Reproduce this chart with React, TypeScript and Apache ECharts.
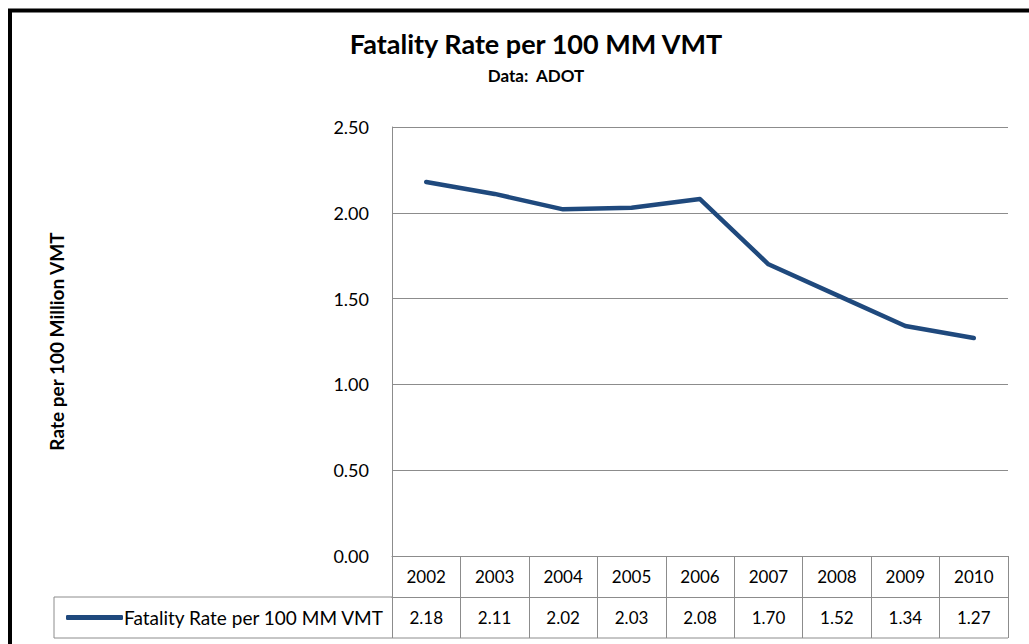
import React, { useEffect, useRef } from "react";
import * as echarts from "echarts";

const years = ["2002", "2003", "2004", "2005", "2006", "2007", "2008", "2009", "2010"];
const rates = [2.18, 2.11, 2.02, 2.03, 2.08, 1.7, 1.52, 1.34, 1.27];
const seriesName = "Fatality Rate per 100 MM VMT";
const titleText = "Fatality Rate per 100 MM VMT";
const subtitleText = "Data:  ADOT";
const yAxisName = "Rate per 100 Million VMT";
const yMin = 0;
const yMax = 2.5;
const yInterval = 0.5;

const W = 1029;
const H = 644;
const GL = 392;
const GR = 1008;
const GT = 127;
const GB = 556;
const ROW = 41;
const LEGEND_LEFT = 54;
const FONT = "Lato, 'Open Sans', sans-serif";
const LINE_COLOR = "#1F497D";
const GRID_COLOR = "#8c8c8c";

export default function App() {
  const ref = useRef<HTMLDivElement>(null);
  useEffect(() => {
    if (!ref.current) return;
    const chart = echarts.init(ref.current, undefined, { renderer: "svg" });
    const option: any = {
      animation: false,
      backgroundColor: "#fff",
      textStyle: { fontFamily: FONT },
      title: {
        text: titleText,
        subtext: subtitleText,
        left: 531,
        textAlign: "center",
        top: 25,
        itemGap: 10,
        textStyle: { fontFamily: FONT, fontSize: 27, fontWeight: "bold", color: "#000" },
        subtextStyle: { fontFamily: FONT, fontSize: 17, fontWeight: "bold", color: "#000" },
      },
      legend: {
        show: true,
        left: 61,
        top: 603,
        icon: "roundRect",
        itemWidth: 57,
        itemHeight: 5,
        itemGap: 0,
        textStyle: { fontFamily: FONT, fontSize: 19, color: "#000", padding: [0, 0, 0, -4] },
        data: [seriesName],
      },
      grid: { left: GL, right: W - GR, top: GT, bottom: H - GB, containLabel: false },
      xAxis: [
        {
          type: "category",
          data: years,
          position: "bottom",
          boundaryGap: true,
          axisLine: { show: true, lineStyle: { color: GRID_COLOR, width: 1 } },
          axisTick: { show: true, length: ROW * 2, lineStyle: { color: GRID_COLOR, width: 1 } },
          axisLabel: { margin: 12, fontSize: 17, color: "#000", fontFamily: FONT },
          splitLine: { show: false },
        },
        {
          type: "category",
          data: years,
          position: "bottom",
          offset: ROW,
          boundaryGap: true,
          axisLine: { show: true, lineStyle: { color: GRID_COLOR, width: 1 } },
          axisTick: { show: false },
          axisLabel: {
            margin: 12,
            fontSize: 17,
            color: "#000",
            fontFamily: FONT,
            formatter: (_v: string, i: number) => rates[i].toFixed(2),
          },
          splitLine: { show: false },
        },
      ],
      yAxis: {
        type: "value",
        min: yMin,
        max: yMax,
        interval: yInterval,
        name: yAxisName,
        nameLocation: "middle",
        nameGap: 326,
        nameTextStyle: { fontFamily: FONT, fontSize: 19, fontWeight: "bold", color: "#000" },
        axisLine: { show: true, lineStyle: { color: GRID_COLOR, width: 1 } },
        axisTick: { show: false },
        axisLabel: { margin: 23, fontSize: 18, color: "#000", fontFamily: FONT, formatter: (v: number) => v.toFixed(2) },
        splitLine: { show: true, lineStyle: { color: GRID_COLOR, width: 1 } },
      },
      series: [
        {
          name: seriesName,
          type: "line",
          xAxisIndex: 0,
          data: rates,
          symbol: "none",
          lineStyle: { color: LINE_COLOR, width: 4.5, cap: "round", join: "round" },
          itemStyle: { color: LINE_COLOR },
        },
      ],
      graphic: [
        {
          type: "polyline",
          shape: {
            points: [
              [GL, GB + ROW],
              [LEGEND_LEFT, GB + ROW],
              [LEGEND_LEFT, GB + ROW * 2],
              [GR, GB + ROW * 2],
            ],
          },
          style: { stroke: GRID_COLOR, lineWidth: 1, fill: null },
          silent: true,
        },
        {
          type: "rect",
          shape: { x: 10, y: 10.5, width: 1200, height: 1000 },
          style: { stroke: "#000", lineWidth: 4, fill: null },
          silent: true,
        },
      ],
    };
    chart.setOption(option);
    return () => chart.dispose();
  }, []);
  return (
    <div
      ref={ref}
      style={{ position: "absolute", left: 0, top: 0, width: W, height: H }}
    />
  );
}
